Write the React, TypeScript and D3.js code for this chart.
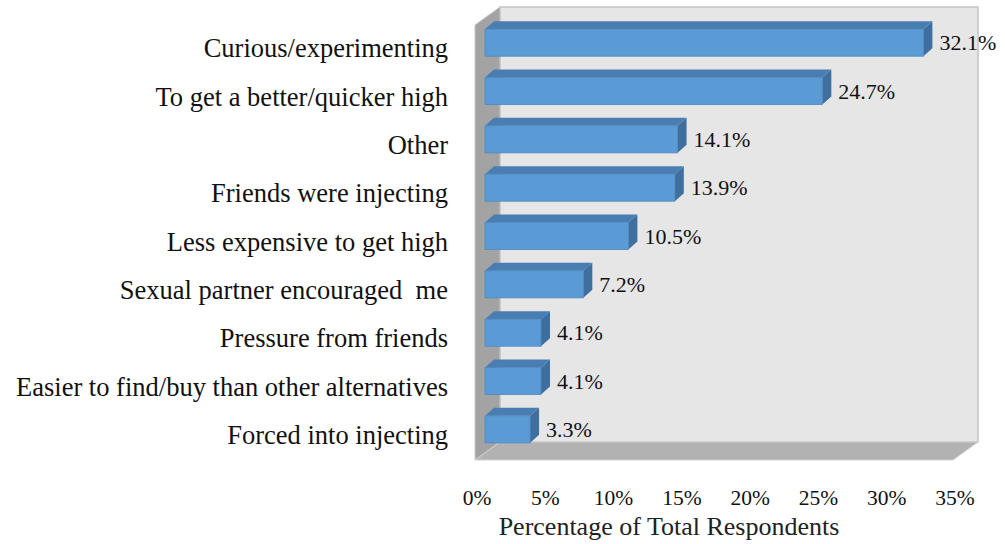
import * as d3 from "d3";

const categories = [
  "Curious/experimenting",
  "To get a better/quicker high",
  "Other",
  "Friends were injecting",
  "Less expensive to get high",
  "Sexual partner encouraged  me",
  "Pressure from friends",
  "Easier to find/buy than other alternatives",
  "Forced into injecting",
];
const values = [32.1, 24.7, 14.1, 13.9, 10.5, 7.2, 4.1, 4.1, 3.3];
const ticks = [0, 5, 10, 15, 20, 25, 30, 35];

const W = 1005;
const H = 544;
const FONT = "'Liberation Serif', 'DejaVu Serif', serif";

// front plane of the 3D box, back wall is shifted by (wallDx, wallDy)
const x = d3.scaleLinear().domain([0, 35]).range([475, 953]);
const y = d3.scaleBand<string>().domain(categories).range([25, 460]).paddingInner(0.44).paddingOuter(0.22);
const wallDx = 25;
const wallDy = -18;
// bars sit part way into the box
const barDx = 10;
const barDy = -6.5;
const depthX = 9;
const depthY = -8;

const pts = (p: [number, number][]) => p.map((d) => d.join(",")).join(" ");

export default function App() {
  const x0 = x(0);
  const x35 = x(35);
  const top = y.range()[0];
  const bottom = y.range()[1];
  const bw = y.bandwidth();

  return (
    <svg width={W} height={H} style={{ display: "block", position: "absolute", left: 0, top: 0 }} fontFamily={FONT}>
      <rect width={W} height={H} fill="#fff" />
      {/* back wall */}
      <rect
        x={x0 + wallDx}
        y={top + wallDy}
        width={x35 - x0}
        height={bottom - top}
        fill="#e6e6e6"
        stroke="#c4c4c4"
        strokeWidth={1.5}
      />
      {/* side wall */}
      <polygon
        points={pts([
          [x0, top],
          [x0 + wallDx, top + wallDy],
          [x0 + wallDx, bottom + wallDy],
          [x0, bottom],
        ])}
        fill="#a3a3a3"
        stroke="#c8c8c8"
        strokeWidth={1}
      />
      {/* floor */}
      <polygon
        points={pts([
          [x0, bottom],
          [x0 + wallDx, bottom + wallDy],
          [x35 + wallDx, bottom + wallDy],
          [x35, bottom],
        ])}
        fill="#b2b2b2"
        stroke="#d0d0d0"
        strokeWidth={1}
      />

      {categories.map((c, i) => {
        const v = values[i];
        const bx0 = x(0) + barDx;
        const bx1 = x(v) + barDx;
        const by0 = (y(c) ?? 0) + barDy;
        const by1 = by0 + bw;
        return (
          <g key={c}>
            {/* top face */}
            <polygon
              points={pts([
                [bx0, by0],
                [bx0 + depthX, by0 + depthY],
                [bx1 + depthX, by0 + depthY],
                [bx1, by0],
              ])}
              fill="#4a7eb2"
            />
            {/* side face */}
            <polygon
              points={pts([
                [bx1, by0],
                [bx1 + depthX, by0 + depthY],
                [bx1 + depthX, by1 + depthY],
                [bx1, by1],
              ])}
              fill="#3f6f9f"
            />
            {/* front face */}
            <rect x={bx0} y={by0} width={bx1 - bx0} height={bw} fill="#5b9bd5" stroke="#4f88bd" strokeWidth={0.8} />
            <text x={bx1 + depthX + 7} y={by0 + bw / 2} dy="0.35em" fontSize={22} fill="#111">
              {v.toFixed(1)}%
            </text>
            <text
              x={448}
              y={(y(c) ?? 0) + bw / 2 - 1}
              dy="0.35em"
              textAnchor="end"
              fontSize={26.5}
              fill="#111"
              xmlSpace="preserve"
            >
              {c}
            </text>
          </g>
        );
      })}

      {ticks.map((t) => (
        <text key={t} x={x(t) + 2} y={497} dy="0.35em" textAnchor="middle" fontSize={21.5} fill="#111">
          {t}%
        </text>
      ))}
      <text x={669} y={526} dy="0.35em" textAnchor="middle" fontSize={26} fill="#222">
        Percentage of Total Respondents
      </text>
    </svg>
  );
}
